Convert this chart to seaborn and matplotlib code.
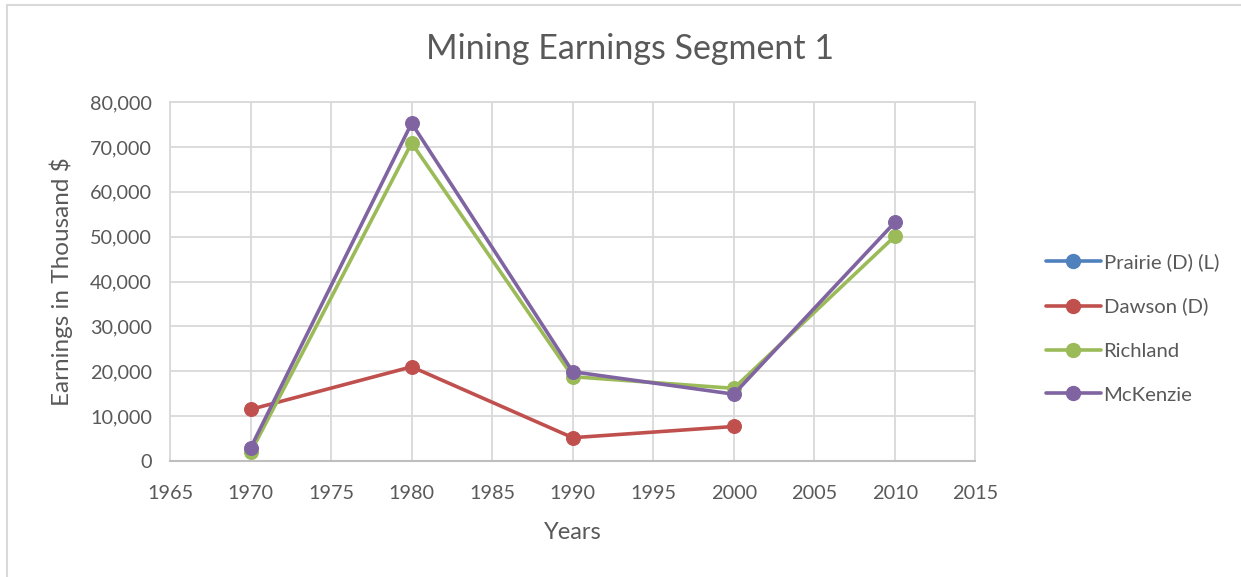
import matplotlib.pyplot as plt
import seaborn as sns
import numpy as np
import pandas as pd
from matplotlib.lines import Line2D
from matplotlib.patches import Rectangle

# Data
years = [1970, 1980, 1990, 2000, 2010]
prairie = [np.nan, np.nan, np.nan, np.nan, np.nan]
dawson = [11500, 21000, 5200, 7700, np.nan]
richland = [1900, 70900, 18800, 16200, 50100]
mckenzie = [2900, 75300, 19900, 14900, 53200]

series_names = ["Prairie (D) (L)", "Dawson (D)", "Richland", "McKenzie"]
series_values = [prairie, dawson, richland, mckenzie]
colors = ["#4F81BD", "#C0504D", "#9BBB59", "#8064A2"]

sns.set_style("white")
plt.rcParams['font.family'] = ['Lato', 'DejaVu Sans']
text_color = "#595959"

fig = plt.figure(figsize=(12.41, 5.77), dpi=100)
ax = fig.add_axes([0.137, 0.201, 0.649, 0.622])

handles = []
for name, vals, col in zip(series_names, series_values, colors):
    df = pd.DataFrame({"year": years, "value": vals}).dropna()
    if len(df) > 0:
        sns.lineplot(data=df, x="year", y="value", ax=ax, color=col,
                     linewidth=2.6, marker="o", markersize=10,
                     markeredgecolor=col, legend=False)
    handles.append(Line2D([0], [0], color=col, linewidth=2.6, marker="o",
                          markersize=10, markeredgecolor=col, label=name))

ax.set_xlim(1965, 2015)
ax.set_ylim(0, 80000)
ax.set_xticks(range(1965, 2016, 5))
ax.set_yticks(range(0, 80001, 10000))
ax.yaxis.set_major_formatter(plt.FuncFormatter(lambda v, p: f"{int(v):,}"))
ax.grid(True, color="#D9D9D9", linewidth=1.3)
for s in ["left", "right", "top"]:
    ax.spines[s].set_color("#D9D9D9")
    ax.spines[s].set_linewidth(1.3)
ax.spines["bottom"].set_color("#BFBFBF")
ax.spines["bottom"].set_linewidth(1.5)
ax.tick_params(axis="both", length=0, labelsize=14.3, colors=text_color)
ax.tick_params(axis="x", pad=17)
ax.tick_params(axis="y", pad=13)

ax.set_xlabel("Years", fontsize=17, color=text_color, labelpad=15)
ax.set_ylabel("Earnings in Thousand $", fontsize=17.5, color=text_color, labelpad=12)
fig.text(0.508, 0.915, "Mining Earnings Segment 1", ha="center", va="center",
         fontsize=24.5, color=text_color)

fig.legend(handles=handles, loc="center left", bbox_to_anchor=(0.828, 0.431),
           frameon=False, fontsize=14.6, handlelength=2.7, labelspacing=1.32,
           handletextpad=0.15, labelcolor=text_color)

fig.patches.append(Rectangle((0.006, -0.01), 1.0, 1.001, transform=fig.transFigure,
                             fill=False, edgecolor="#D9D9D9", linewidth=1.5))

fig.savefig("out.png", dpi=100)
